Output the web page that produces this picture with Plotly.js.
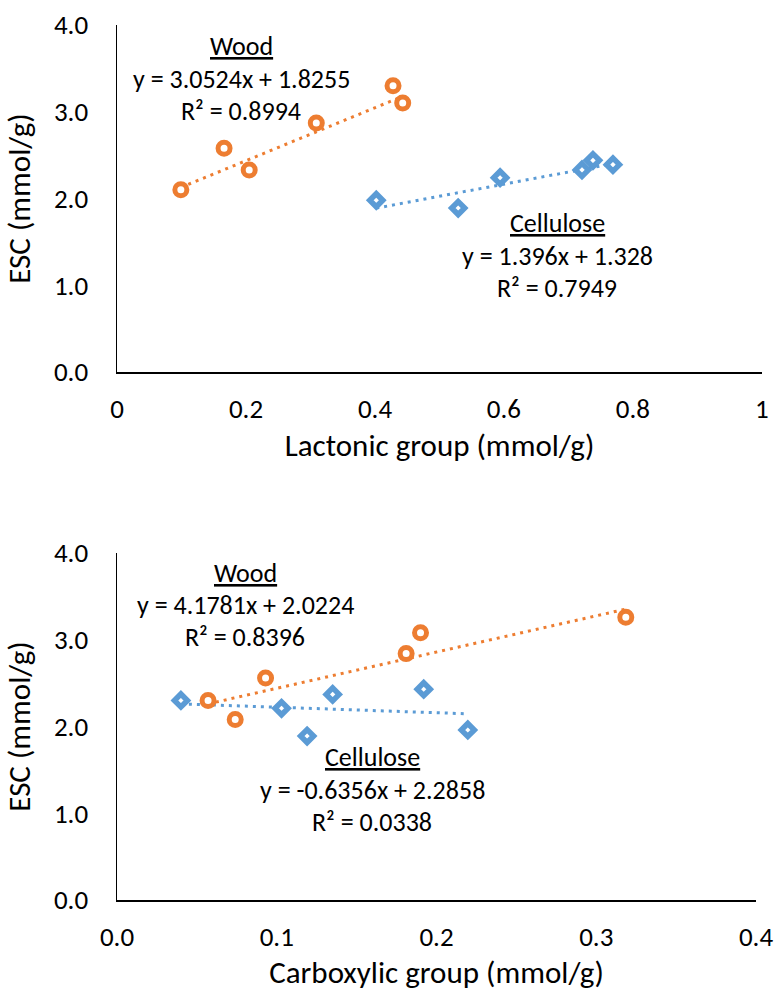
<!DOCTYPE html>
<html>
<head>
<meta charset="utf-8">
<script src="https://cdn.plot.ly/plotly-3.0.1.min.js"></script>
<style>html,body{margin:0;padding:0;background:#fff;}#chart{width:775px;height:991px;}</style>
</head>
<body>
<div id="chart"></div>
<script>
// Top panel: Lactonic group
const lactWoodX = [0.099, 0.166, 0.205, 0.309, 0.428, 0.443];
const lactWoodY = [2.10, 2.58, 2.33, 2.87, 3.30, 3.10];
const lactCellX = [0.402, 0.529, 0.594, 0.721, 0.738, 0.769];
const lactCellY = [1.98, 1.89, 2.24, 2.33, 2.44, 2.39];
// Bottom panel: Carboxylic group
const carbWoodX = [0.057, 0.074, 0.093, 0.181, 0.190, 0.3185];
const carbWoodY = [2.30, 2.08, 2.56, 2.84, 3.08, 3.26];
const carbCellX = [0.040, 0.103, 0.119, 0.135, 0.192, 0.2196];
const carbCellY = [2.30, 2.21, 1.89, 2.37, 2.43, 1.96];
// Trendline coefficients shown on the chart
const lactSlope = [3.0524, 1.396], lactIntercept = [1.8255, 1.328], lactR2 = [0.8994, 0.7949];
const carbSlope = [4.1781, -0.6356], carbIntercept = [2.0224, 2.2858], carbR2 = [0.8396, 0.0338];
const xTitles = ['Lactonic group (mmol/g)', 'Carboxylic group (mmol/g)'];
const yTitle = 'ESC (mmol/g)';
const yTicks = [0, 1, 2, 3, 4];
const lactTicks = [0, 0.2, 0.4, 0.6, 0.8, 1];
const carbTicks = [0, 0.1, 0.2, 0.3, 0.4];

const ORANGE = '#ED7D31', BLUE = '#5B9BD5';
const FONT = 'Carlito, Calibri, Lato, sans-serif';

function trend(xs, m, b) {
  const x0 = Math.min(...xs), x1 = Math.max(...xs);
  return {x: [x0, x1], y: [m * x0 + b, m * x1 + b]};
}
function trendTrace(xs, m, b, color, xa, ya) {
  const t = trend(xs, m, b);
  return {x: t.x, y: t.y, mode: 'lines', xaxis: xa, yaxis: ya, hoverinfo: 'skip',
    line: {color: color, width: 3, dash: '3px,5px'}, showlegend: false};
}
function woodTrace(x, y, xa, ya) {
  return {x, y, mode: 'markers', xaxis: xa, yaxis: ya, showlegend: false,
    marker: {symbol: 'circle', size: 12, color: '#fff', line: {color: ORANGE, width: 5}}};
}
function cellTrace(x, y, xa, ya) {
  return {x, y, mode: 'markers', xaxis: xa, yaxis: ya, showlegend: false,
    marker: {symbol: 'diamond', size: 10, color: '#fff', line: {color: BLUE, width: 5.5}}};
}

const data = [
  trendTrace(lactWoodX, lactSlope[0], lactIntercept[0], ORANGE, 'x', 'y'),
  trendTrace(lactCellX, lactSlope[1], lactIntercept[1], BLUE, 'x', 'y'),
  woodTrace(lactWoodX, lactWoodY, 'x', 'y'),
  cellTrace(lactCellX, lactCellY, 'x', 'y'),
  trendTrace(carbWoodX, carbSlope[0], carbIntercept[0], ORANGE, 'x2', 'y2'),
  trendTrace(carbCellX, carbSlope[1], carbIntercept[1], BLUE, 'x2', 'y2'),
  woodTrace(carbWoodX, carbWoodY, 'x2', 'y2'),
  cellTrace(carbCellX, carbCellY, 'x2', 'y2')
];

function eqText(m, b) {
  const sign = b >= 0 ? '+' : '-';
  return 'y = ' + m + 'x ' + sign + ' ' + Math.abs(b);
}
// position helpers: pixel centre -> domain fraction
const TOP = {x0: 117, w: 645, y0: 372, h: 347};
const BOT = {x0: 117, w: 639, y0: 900, h: 347};
function ann(text, xa, ya, P, px, py) {
  return {text, xref: xa + ' domain', yref: ya + ' domain',
    x: (px - P.x0) / P.w, y: (P.y0 - py) / P.h, showarrow: false,
    xanchor: 'center', yanchor: 'middle', font: {family: FONT, size: 26, color: '#000'}};
}
const annotations = [
  ann('<u>Wood</u>', 'x', 'y', TOP, 241, 46),
  ann(eqText(lactSlope[0], lactIntercept[0]), 'x', 'y', TOP, 241, 79),
  ann('R² = ' + lactR2[0], 'x', 'y', TOP, 241, 111),
  ann('<u>Cellulose</u>', 'x', 'y', TOP, 557, 223),
  ann(eqText(lactSlope[1], lactIntercept[1]), 'x', 'y', TOP, 557, 256),
  ann('R² = ' + lactR2[1], 'x', 'y', TOP, 557, 288),
  ann('<u>Wood</u>', 'x2', 'y2', BOT, 245, 573),
  ann(eqText(carbSlope[0], carbIntercept[0]), 'x2', 'y2', BOT, 245, 605),
  ann('R² = ' + carbR2[0], 'x2', 'y2', BOT, 245, 637),
  ann('<u>Cellulose</u>', 'x2', 'y2', BOT, 372, 757),
  ann(eqText(carbSlope[1], carbIntercept[1]), 'x2', 'y2', BOT, 372, 790),
  ann('R² = ' + carbR2[1], 'x2', 'y2', BOT, 372, 822)
];

const tickFont = {family: FONT, size: 27, color: '#000'};
const titleFont = {family: FONT, size: 31, color: '#000'};
function xAxis(extra) {
  return Object.assign({showgrid: false, zeroline: false, showline: true, linecolor: '#000', linewidth: 1.5,
    ticks: 'outside', ticklen: 12, tickcolor: 'rgba(0,0,0,0)', tickfont: tickFont, automargin: false,
    tickmode: 'array', ticklabeloverflow: 'allow', fixedrange: true}, extra);
}
function yAxis(extra) {
  return Object.assign({showgrid: false, zeroline: false, showline: true, linecolor: '#000', linewidth: 1.5,
    ticks: 'outside', ticklen: 22, tickcolor: 'rgba(0,0,0,0)', tickfont: tickFont, automargin: false,
    range: [0, 4.0001], tickmode: 'array', tickvals: yTicks, ticktext: yTicks.map(v => v.toFixed(1)),
    fixedrange: true, title: {text: yTitle, font: titleFont, standoff: 18}}, extra);
}

const layout = {
  width: 775, height: 991,
  margin: {l: 117, r: 13, t: 25, b: 91},
  paper_bgcolor: '#fff', plot_bgcolor: '#fff',
  showlegend: false,
  xaxis: xAxis({domain: [0, 1], range: [0, 1.0001], anchor: 'y',
    tickvals: lactTicks, ticktext: lactTicks.map(v => String(v)),
    title: {text: xTitles[0], font: titleFont, standoff: 10}}),
  yaxis: yAxis({domain: [0.6034, 1], anchor: 'x'}),
  xaxis2: xAxis({domain: [0, 0.9907], range: [0, 0.40001], anchor: 'y2',
    tickvals: carbTicks, ticktext: carbTicks.map(v => v.toFixed(1)),
    title: {text: xTitles[1], font: titleFont, standoff: 10}}),
  yaxis2: yAxis({domain: [0, 0.3966], anchor: 'x2'}),
  annotations
};

Plotly.newPlot('chart', data, layout, {displayModeBar: false, staticPlot: true});
</script>
</body>
</html>
